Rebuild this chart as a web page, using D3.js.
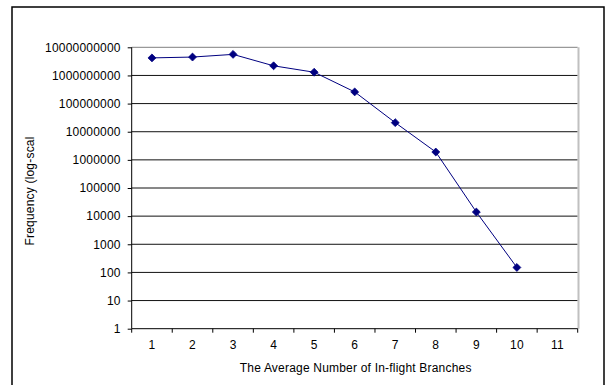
<!DOCTYPE html>
<html>
<head>
<meta charset="utf-8">
<script src="https://cdn.jsdelivr.net/npm/d3@7"></script>
<style>
  html, body { margin: 0; padding: 0; background: #fff; }
  svg { display: block; }
  text { font-family: "Liberation Sans", Arial, sans-serif; fill: #000; letter-spacing: 0.2px; }
</style>
</head>
<body>
<svg id="chart" width="606" height="385"></svg>
<script>
// Category labels along the x axis
const categories = ["1", "2", "3", "4", "5", "6", "7", "8", "9", "10", "11"];
// Branch counts that carry a measured frequency
const branchCounts = ["1", "2", "3", "4", "5", "6", "7", "8", "9", "10"];
// Measured frequency per branch count
const frequencies = [4.2e9, 4.5e9, 5.6e9, 2.2e9, 1.3e9, 2.6e8, 2.1e7, 1.9e6, 1.4e4, 150];
// Decade ticks on the log axis
const yTicks = [1, 10, 100, 1000, 10000, 100000, 1000000, 10000000, 100000000, 1000000000, 10000000000];

const xTitle = "The Average Number of In-flight Branches";
const yTitle = "Frequency (log-scal";

const svg = d3.select("#chart");
const plot = { left: 131.7, right: 577.7, top: 47.3, bottom: 328.7 };

// Chart-area frame
svg.append("rect")
  .attr("x", 12).attr("y", 7)
  .attr("width", 592).attr("height", 400)
  .attr("fill", "#fff").attr("stroke", "#000").attr("stroke-width", 1.5);

const x = d3.scaleBand().domain(categories).range([plot.left, plot.right]).padding(0);
const y = d3.scaleLog().domain([1, 1e10]).range([plot.bottom, plot.top]);

// Horizontal gridlines at each decade
svg.append("g").selectAll("line")
  .data(yTicks.slice(1))
  .join("line")
  .attr("x1", plot.left).attr("x2", plot.right)
  .attr("y1", d => y(d)).attr("y2", d => y(d))
  .attr("stroke", (d, i, n) => i === n.length - 1 ? "#808080" : "#111")
  .attr("stroke-width", 1);

// Right edge of the plot area
svg.append("line")
  .attr("x1", plot.right + 0.8).attr("x2", plot.right + 0.8)
  .attr("y1", plot.top).attr("y2", plot.bottom)
  .attr("stroke", "#c0c0c0").attr("stroke-width", 2);

// Y axis
const yAxis = svg.append("g")
  .attr("transform", `translate(${plot.left},0)`)
  .call(d3.axisLeft(y).tickValues(yTicks).tickFormat(d3.format("d")).tickSize(4).tickPadding(7));
yAxis.select(".domain").attr("stroke", "#000").attr("d", `M0,${plot.top}V${plot.bottom}`);
yAxis.selectAll(".tick line").attr("stroke", "#000");
yAxis.selectAll("text").attr("font-size", "12px").attr("font-family", "Liberation Sans, Arial, sans-serif").attr("fill", "#000");

// X axis: labels centred in each category, ticks on category boundaries
const xAxis = svg.append("g")
  .attr("transform", `translate(0,${plot.bottom})`)
  .call(d3.axisBottom(x).tickSize(0).tickPadding(12));
xAxis.select(".domain").attr("stroke", "#000").attr("d", `M${plot.left},0H${plot.right}`);
xAxis.selectAll("text").attr("font-size", "12px").attr("font-family", "Liberation Sans, Arial, sans-serif").attr("fill", "#000");

const boundaries = categories.map(c => x(c)).concat([plot.right]);
xAxis.append("g").selectAll("line")
  .data(boundaries)
  .join("line")
  .attr("x1", d => d).attr("x2", d => d)
  .attr("y1", 0).attr("y2", 4)
  .attr("stroke", "#000");

// Axis titles
svg.append("text")
  .attr("x", (plot.left + plot.right) / 2 + 1)
  .attr("y", 372)
  .attr("text-anchor", "middle")
  .attr("font-size", "12px")
  .text(xTitle);

svg.append("text")
  .attr("transform", `translate(34,${191}) rotate(-90)`)
  .attr("text-anchor", "middle")
  .attr("font-size", "12px")
  .text(yTitle);

// Frequency series
const pts = branchCounts.map((c, i) => ({ c, v: frequencies[i] }));
const px = d => x(d.c) + x.bandwidth() / 2;

svg.append("path")
  .datum(pts)
  .attr("fill", "none")
  .attr("stroke", "#000080")
  .attr("stroke-width", 1)
  .attr("d", d3.line().x(px).y(d => y(d.v)));

svg.append("g").selectAll("path")
  .data(pts)
  .join("path")
  .attr("transform", d => `translate(${px(d)},${y(d.v)})`)
  .attr("d", d3.symbol(d3.symbolDiamond2, 40))
  .attr("fill", "#000080")
  .attr("stroke", "#000080")
  .attr("stroke-width", 0.8);
</script>
</body>
</html>
